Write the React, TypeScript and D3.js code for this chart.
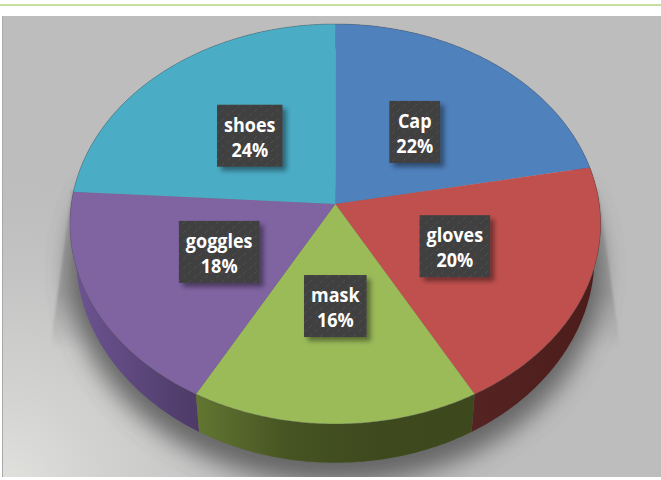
import React, { useEffect, useRef } from "react";
import * as d3 from "d3";

const categories = ["Cap", "gloves", "mask", "goggles", "shoes"];
const shares = [22, 20, 16, 18, 24];
const faceColors = ["#4f81bd", "#c0504d", "#9bbb59", "#8064a2", "#4bacc6"];
// Side wall shades, listed from the slice's start angle to its end angle.
const sideStops = [
  ["#3a5f8c", "#3a5f8c"],
  ["#4c1d1b", "#552422"],
  ["#3d481d", "#3e491e", "#465322", "#617531"],
  ["#4d3a66", "#6b5390"],
  ["#38808f", "#38808f"],
];

const WIDTH = 661;
const HEIGHT = 480;

// Tilted disc: unit circle coordinates go through a perspective mapping, so the
// hub sits above the middle of the ellipse and the near rim looks larger.
type Disc = { cx: number; cy: number; a: number; b: number; k: number };
const topDisc: Disc = { cx: 335.3, cy: 204, a: 264, b: 198, k: 0.1 };
const baseDisc: Disc = { cx: 335.3, cy: 235, a: 258, b: 205, k: 0.1 };

function project(d: Disc, angle: number, r = 1): [number, number] {
  const u = Math.sin(angle) * r;
  const v = -Math.cos(angle) * r;
  const w = 1 - d.k * v;
  return [d.cx + (d.a * u) / w, d.cy + (d.b * v) / w];
}

function rimPoints(d: Disc, a0: number, a1: number): [number, number][] {
  const n = Math.max(2, Math.ceil(Math.abs(a1 - a0) / 0.01));
  return d3.range(n + 1).map((i) => project(d, a0 + ((a1 - a0) * i) / n));
}

const line = d3.line<[number, number]>();

export default function App() {
  const ref = useRef<SVGSVGElement | null>(null);

  useEffect(() => {
    const svg = d3.select(ref.current);
    svg.selectAll("*").remove();
    const defs = svg.append("defs");

    const addLinear = (id: string, coords: number[], stops: [number, string, number?][]) => {
      const g = defs
        .append("linearGradient")
        .attr("id", id)
        .attr("gradientUnits", "userSpaceOnUse")
        .attr("x1", coords[0])
        .attr("y1", coords[1])
        .attr("x2", coords[2])
        .attr("y2", coords[3]);
      stops.forEach(([o, c, a]) =>
        g.append("stop").attr("offset", o).attr("stop-color", c).attr("stop-opacity", a ?? 1)
      );
    };

    // Backdrop lightens toward the lower left corner.
    const glow = defs
      .append("radialGradient")
      .attr("id", "corner-glow")
      .attr("gradientUnits", "userSpaceOnUse")
      .attr("cx", 0)
      .attr("cy", 490)
      .attr("r", 340);
    glow.append("stop").attr("offset", 0).attr("stop-color", "#e2e3df").attr("stop-opacity", 1);
    glow.append("stop").attr("offset", 0.45).attr("stop-color", "#d2d3d1").attr("stop-opacity", 0.7);
    glow.append("stop").attr("offset", 1).attr("stop-color", "#bebebe").attr("stop-opacity", 0);

    addLinear("wedge-fade", [0, 190, 0, 350], [
      [0, "#8e8e8e", 0.5],
      [0.65, "#8e8e8e", 0.6],
      [1, "#8e8e8e", 0],
    ]);

    defs
      .append("filter")
      .attr("id", "soft")
      .attr("x", "-20%")
      .attr("y", "-20%")
      .attr("width", "140%")
      .attr("height", "140%")
      .append("feGaussianBlur")
      .attr("stdDeviation", 12);

    const wedgeSoft = defs.append("filter").attr("id", "wedge-soft");
    wedgeSoft.append("feGaussianBlur").attr("stdDeviation", 1);

    const boxShadow = defs
      .append("filter")
      .attr("id", "box-shadow")
      .attr("x", "-20%")
      .attr("y", "-20%")
      .attr("width", "150%")
      .attr("height", "150%");
    boxShadow
      .append("feDropShadow")
      .attr("dx", 4)
      .attr("dy", 4)
      .attr("stdDeviation", 2.5)
      .attr("flood-color", "#000")
      .attr("flood-opacity", 0.42);

    const texture = defs
      .append("pattern")
      .attr("id", "box-texture")
      .attr("patternUnits", "userSpaceOnUse")
      .attr("width", 11)
      .attr("height", 9);
    texture.append("rect").attr("width", 11).attr("height", 9).attr("fill", "#404040");
    texture
      .append("path")
      .attr("d", "M1 4 L4 1 M7 8 L10 5")
      .attr("stroke", "#5a5a5a")
      .attr("stroke-width", 0.9)
      .attr("opacity", 0.6);

    const pie = d3
      .pie<number>()
      .sort(null)
      .value((d) => d)(shares);

    svg.append("rect").attr("width", WIDTH).attr("height", HEIGHT).attr("fill", "#ffffff");
    svg.append("rect").attr("x", 0).attr("y", 4).attr("width", WIDTH).attr("height", 2).attr("fill", "#c6dfa0");

    const stage = svg.append("g");
    stage.append("rect").attr("x", 2).attr("y", 16).attr("width", 659).attr("height", 461).attr("fill", "#bdbdbd");
    stage.append("rect").attr("x", 2).attr("y", 16).attr("width", 659).attr("height", 461).attr("fill", "url(#corner-glow)");
    stage.append("rect").attr("x", 2).attr("y", 16).attr("width", 1).attr("height", 461).attr("fill", "#a9a9a9");

    const stageClip = defs.append("clipPath").attr("id", "stage-clip");
    stageClip.append("rect").attr("x", 2).attr("y", 16).attr("width", 659).attr("height", 461);

    // Cast shadow: a crisp flared wedge on both sides, a soft pool below the rim.
    const shadows = stage.append("g").attr("clip-path", "url(#stage-clip)");
    shadows
      .append("path")
      .attr("d", "M72 190 L52 335 L52 350 L618 350 L620 345 L598 190 Z")
      .attr("fill", "url(#wedge-fade)")
      .attr("filter", "url(#wedge-soft)");
    shadows
      .append("path")
      .attr("d", line(rimPoints({ ...baseDisc, cy: 250, a: 264, b: 210 }, Math.PI / 2 - 0.3, (3 * Math.PI) / 2 + 0.3)))
      .attr("fill", "#505050")
      .attr("opacity", 0.8)
      .attr("filter", "url(#soft)");

    // Side wall: the strip between the lower rim and the upper rim of each slice.
    pie.forEach((s, i) => {
      const stops = sideStops[i];
      addLinear(
        `side-${i}`,
        [project(baseDisc, s.startAngle)[0], 0, project(baseDisc, s.endAngle)[0], 0],
        stops.map((c, j) => [j / (stops.length - 1), c] as [number, string])
      );
    });
    const sides = stage.append("g");
    [4, 0, 3, 1, 2].forEach((i) => {
      const s = pie[i];
      const outline = [...rimPoints(topDisc, s.startAngle, s.endAngle), ...rimPoints(baseDisc, s.endAngle, s.startAngle)];
      sides
        .append("path")
        .attr("d", line(outline) + "Z")
        .attr("fill", `url(#side-${i})`);
    });

    // Top face of every slice.
    const faces = stage.append("g");
    pie.forEach((s, i) => {
      const pts: [number, number][] = [[topDisc.cx, topDisc.cy], ...rimPoints(topDisc, s.startAngle, s.endAngle)];
      faces
        .append("path")
        .attr("d", line(pts) + "Z")
        .attr("fill", faceColors[i]);
    });
    faces
      .append("path")
      .attr("d", line(rimPoints(topDisc, 0, 2 * Math.PI)) + "Z")
      .attr("fill", "none")
      .attr("stroke", "#4a4a4a")
      .attr("stroke-opacity", 0.5)
      .attr("stroke-width", 0.7);

    // Data labels: a dark plate sized to its text, placed along each slice's mid angle.
    // The text is narrowed horizontally to get a compact bold face.
    const lineGap = 25;
    const plateH = 62;
    const narrow = 0.9;
    pie.forEach((s, i) => {
      const mid = (s.startAngle + s.endAngle) / 2;
      const [x, y] = project(topDisc, mid, 0.49);
      const top = y - plateH / 2;
      const g = stage.append("g");
      const plate = g.append("rect").attr("fill", "url(#box-texture)").attr("filter", "url(#box-shadow)");
      const text = g
        .append("text")
        .attr("transform", `translate(${x},${top}) scale(${narrow},1)`)
        .attr("fill", "#ffffff")
        .attr("font-family", "'Open Sans', sans-serif")
        .attr("font-weight", 700)
        .attr("font-size", 20)
        .attr("text-anchor", "middle");
      const first = text.append("tspan").attr("x", 0).attr("y", 27).text(categories[i]);
      const second = text.append("tspan").attr("x", 0).attr("y", 27 + lineGap).text(`${shares[i]}%`);
      const w =
        narrow *
        Math.max(
          (first.node() as SVGTSpanElement).getComputedTextLength(),
          (second.node() as SVGTSpanElement).getComputedTextLength()
        );
      plate
        .attr("x", x - w / 2 - 7)
        .attr("y", top)
        .attr("width", w + 14)
        .attr("height", plateH);
    });
  }, []);

  return (
    <svg
      ref={ref}
      width={WIDTH}
      height={HEIGHT}
      viewBox={`0 0 ${WIDTH} ${HEIGHT}`}
      style={{ position: "absolute", left: 0, top: 0, display: "block" }}
    />
  );
}
